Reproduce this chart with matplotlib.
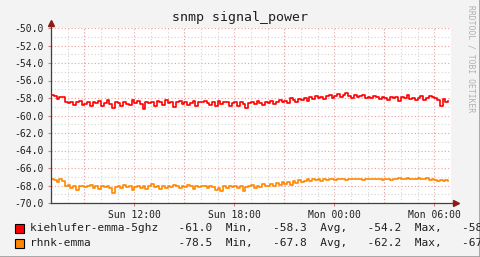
import matplotlib
matplotlib.use("Agg")
import matplotlib.pyplot as plt
import matplotlib.dates as mdates
from matplotlib.patches import Rectangle
from matplotlib.lines import Line2D
import pandas as pd

# Daten: 10-Minuten-Werte, Sonntag 07:00 bis Montag 06:50
times = pd.date_range("2023-01-01 07:00", periods=144, freq="10min")

kiehlufer = [
    -57.6, -57.8, -58.1, -57.9, -57.9, -58.5,
    -58.6, -58.4, -58.8, -58.5, -58.3, -58.8,
    -58.7, -58.5, -58.9, -58.4, -58.6, -58.3,
    -58.9, -58.6, -58.2, -58.7, -59.1, -58.5,
    -58.6, -58.9, -58.4, -58.7, -58.8, -58.2,
    -58.6, -58.3, -58.7, -59.2, -58.5, -58.6,
    -58.4, -58.9, -58.3, -58.5, -58.8, -58.2,
    -58.6, -58.4, -59.0, -58.5, -58.3, -58.7,
    -58.4, -58.8, -58.6, -58.3, -58.9, -58.5,
    -58.5, -58.3, -58.6, -58.8, -58.4, -58.9,
    -58.3, -58.7, -58.5, -58.4, -58.9, -58.6,
    -58.5, -58.9, -58.4, -58.7, -59.1, -58.6,
    -58.4, -58.7, -58.3, -58.6, -58.8, -58.4,
    -58.6, -58.3, -58.7, -58.4, -58.2, -58.5,
    -58.3, -58.6, -58.0, -58.2, -58.5, -58.1,
    -58.2, -58.0, -58.3, -57.9, -58.1, -57.8,
    -58.0, -57.9, -58.1, -57.8, -57.6, -58.0,
    -57.8, -57.5, -57.9, -57.7, -57.4, -57.8,
    -58.0, -57.6, -57.9, -57.8, -57.7, -58.0,
    -57.9, -58.0, -57.8, -57.9, -58.1, -57.9,
    -58.0, -58.2, -57.9, -58.0, -57.9, -58.3,
    -57.9, -58.0, -57.6, -58.1, -58.0, -58.2,
    -58.0, -57.8, -58.2, -58.0, -57.8, -57.9,
    -58.0, -58.2, -58.9, -58.1, -58.4, -58.3,
]

rhnk = [
    -67.3, -67.4, -67.6, -67.3, -67.5, -68.0,
    -67.9, -68.3, -68.0, -68.5, -68.1, -68.0,
    -68.2, -68.0, -67.9, -68.3, -68.1, -68.4,
    -68.0, -68.2, -68.1, -68.3, -68.9, -68.2,
    -68.1, -68.3, -67.9, -68.2, -68.0, -68.5,
    -68.2, -68.0, -68.3, -68.1, -68.4, -68.0,
    -67.8, -68.2, -68.0, -68.4, -68.1, -68.3,
    -68.0, -68.2, -67.9, -68.1, -68.3, -68.0,
    -68.2, -67.9, -68.1, -68.4, -68.0, -68.2,
    -68.1, -68.0, -68.3, -68.0, -68.2, -68.5,
    -68.3, -68.6, -68.1, -68.3, -68.0, -68.2,
    -68.0, -68.3, -68.1, -68.6, -68.2, -68.0,
    -67.9, -68.3, -68.0, -68.2, -67.8, -68.1,
    -68.0, -67.8, -68.1, -67.7, -67.9, -67.6,
    -67.8, -67.6, -67.9, -67.5, -67.7, -67.4,
    -67.6, -67.5, -67.3, -67.5, -67.2, -67.4,
    -67.3, -67.5, -67.2, -67.4, -67.3, -67.2,
    -67.4, -67.2, -67.3, -67.2, -67.4, -67.3,
    -67.2, -67.3, -67.3, -67.2, -67.4, -67.3,
    -67.3, -67.2, -67.3, -67.3, -67.2, -67.4,
    -67.3, -67.2, -67.4, -67.2, -67.3, -67.1,
    -67.2, -67.3, -67.1, -67.2, -67.3, -67.2,
    -67.1, -67.3, -67.2, -67.1, -67.4, -67.3,
    -67.4, -67.5, -67.4, -67.5, -67.4, -67.5,
]

series_names = ["kiehlufer-emma-5ghz", "rhnk-emma"]
series_colors = ["#ff0000", "#ff8800"]
stats = [(-61.0, -58.3, -54.2), (-78.5, -67.8, -62.2)]
last_vals = ["-58", "-67"]  # im Original am Bildrand abgeschnitten

plt.rcParams["font.family"] = ["DejaVu Sans Mono"]

W, H = 481, 257
fig = plt.figure(figsize=(W / 100, H / 100), dpi=100, facecolor="#f3f3f3")
ax = fig.add_axes([51 / W, 1 - 203 / H, 400 / W, 175 / H])
ax.set_facecolor("white")

ax.plot(times, kiehlufer, color=series_colors[0], lw=1.2, drawstyle="steps-post", zorder=3)
ax.plot(times, rhnk, color=series_colors[1], lw=1.2, drawstyle="steps-post", zorder=3)

start = pd.Timestamp("2023-01-01 07:00")
end = pd.Timestamp("2023-01-02 07:00")
ax.set_xlim(start, end)
ax.set_ylim(-70, -50)

# y-Achse
ax.set_yticks([-70 + 2 * i for i in range(11)])
ax.set_yticks(range(-69, -50, 2), minor=True)
ax.yaxis.set_major_formatter(plt.FormatStrFormatter("%.1f"))

# x-Achse
ax.xaxis.set_major_locator(mdates.HourLocator(byhour=[0, 6, 12, 18]))
ax.xaxis.set_minor_locator(mdates.HourLocator(interval=1))
ax.xaxis.set_major_formatter(mdates.DateFormatter("%a %H:%M"))

ax.tick_params(axis="both", which="major", labelsize=7, length=2, width=0.8,
               color="#d08080", pad=3, labelcolor="#202020")
ax.tick_params(axis="both", which="minor", length=0)

grid_gray = dict(color="#d4d4d4", linestyle=(0, (1, 2)), linewidth=0.8)
grid_red = dict(color="#e8a0a0", linestyle=(0, (1, 2)), linewidth=0.8)
ax.grid(True, which="minor", **grid_gray)
ax.grid(True, which="major", axis="y", **grid_red)
for t in pd.date_range("2023-01-01 09:00", end, freq="3h"):
    ax.axvline(t, zorder=1, **grid_red)
ax.set_axisbelow(True)

for s in ax.spines.values():
    s.set_visible(False)

# Achsen mit Pfeilen
ax.add_line(Line2D([0, 0], [0, 1.03], transform=ax.transAxes, color="#404040",
                   lw=0.9, clip_on=False, zorder=4))
ax.add_line(Line2D([0, 1.012], [0, 0], transform=ax.transAxes, color="#404040",
                   lw=0.9, clip_on=False, zorder=4))
ax.plot([0], [1.03], marker="^", ms=4, color="#8b1a1a", transform=ax.transAxes,
        clip_on=False, zorder=5)
ax.plot([1.012], [0], marker=">", ms=4, color="#8b1a1a", transform=ax.transAxes,
        clip_on=False, zorder=5)

# Titel und Wasserzeichen
fig.text(0.5, 1 - 18 / H, "snmp signal_power", ha="center", va="center",
         fontsize=9.5, color="#202020")
fig.text(471 / W, 1 - 5 / H, "RRDTOOL / TOBI OETIKER", rotation=270, ha="center",
         va="top", fontsize=5.8, color="#b0b0b0")

# Legende
for i, (name, col, (mn, av, mx), last) in enumerate(zip(series_names, series_colors,
                                                        stats, last_vals)):
    yc = 228 + 15 * i
    fig.patches.append(Rectangle((15 / W, 1 - (yc + 5) / H), 9 / W, 9 / H,
                                 transform=fig.transFigure, facecolor=col,
                                 edgecolor="black", lw=0.8))
    line = f"{name:<21s} {mn:5.1f}  Min,   {av:5.1f}  Avg,   {mx:5.1f}  Max,   {last}"
    fig.text(30 / W, 1 - yc / H, line, ha="left", va="center", fontsize=8,
             color="#202020")

# Rahmen
fig.add_artist(Line2D([0, 1], [0.5 / H, 0.5 / H], transform=fig.transFigure,
                      color="#a0a0a0", lw=2))
fig.add_artist(Line2D([1 - 0.5 / W, 1 - 0.5 / W], [0, 1], transform=fig.transFigure,
                      color="#a0a0a0", lw=2))

fig.savefig("out.png", dpi=100, facecolor=fig.get_facecolor())
